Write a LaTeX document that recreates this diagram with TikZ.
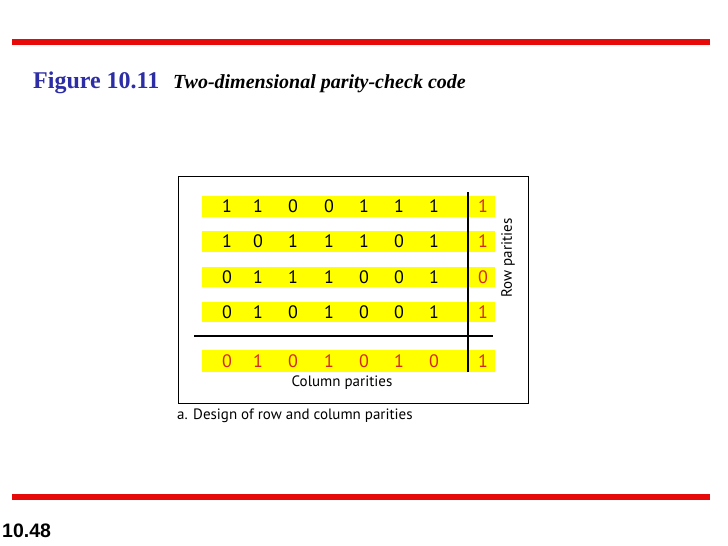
\documentclass[tikz,border=0pt]{standalone}
\usepackage{fontspec}
\setmainfont{Liberation Serif}
\newfontfamily\figsans{PT Sans}
\newfontfamily\arialf{Liberation Sans}
\definecolor{rulered}{RGB}{230,10,10}
\definecolor{titleblue}{RGB}{45,45,165}
\definecolor{digred}{RGB}{215,40,30}
\definecolor{rowyellow}{RGB}{255,255,0}
\begin{document}
\begin{tikzpicture}[x=1pt,y=-1pt,
  dig/.style={font=\figsans\fontsize{18}{18}\selectfont,inner sep=0pt,anchor=center},
  pdig/.style={dig,text=digred},
  lbl/.style={inner sep=0pt,font=\figsans\fontsize{15}{15}\selectfont},
  redrule/.style={draw=rulered,line width=6pt},
  blackrule/.style={draw=black,line width=2.2pt}]
\useasboundingbox (0,0) rectangle (728,546);
\fill[white] (0,0) rectangle (728,546);
% red rules
\coordinate (t1) at (12,42); \coordinate (t2) at (710,42);
\coordinate (b1) at (12,497); \coordinate (b2) at (710,497);
\draw[redrule] (t1) -- (t2);
\draw[redrule] (b1) -- (b2);
% title
\node[anchor=base west,inner sep=0pt,text=titleblue,font=\fontsize{24}{24}\selectfont\bfseries] (fig) at (33,88) {Figure 10.11};
\node[anchor=base west,inner sep=0pt,font=\fontsize{20}{20}\selectfont\bfseries\itshape] (ttl) at (173,88) {Two-dimensional parity-check code};
% page number
\node[anchor=base west,inner sep=0pt,font=\arialf\bfseries\fontsize{19.5}{19.5}\selectfont] (pg) at (2,537) {10.48};
% frame
\draw[black,line width=1pt] (178,176) rectangle (528,403);
% yellow bars
\foreach \ya/\yb in {196/217,231/252,267/287,302/322,350/372}{
  \fill[rowyellow] (202,\ya) rectangle (495,\yb);
}
% digits
\def\xs{{227,258,293,329,364,399,434,483}}
\foreach \row/\y in {{1,1,0,0,1,1,1,1}/206.5,{1,0,1,1,1,0,1,1}/241.5,{0,1,1,1,0,0,1,0}/277,{0,1,0,1,0,0,1,1}/312}{
  \foreach \d [count=\i] in \row {
    \pgfmathsetmacro{\xx}{\xs[\i-1]}
    \ifnum\i=8
      \node[pdig] at (\xx,\y) {\d};
    \else
      \node[dig] at (\xx,\y) {\d};
    \fi
  }
}
\foreach \d [count=\i] in {0,1,0,1,0,1,0,1}{
  \pgfmathsetmacro{\xx}{\xs[\i-1]}
  \node[pdig] at (\xx,361) {\d};
}
% lines
\coordinate (v1) at (468,192); \coordinate (v2) at (468,372);
\coordinate (h1) at (194,336); \coordinate (h2) at (493,336);
\draw[blackrule] (v1) -- (v2);
\draw[blackrule] (h1) -- (h2);
% labels
\node[lbl,rotate=90] (rp) at (508,258) {Row parities};
\node[lbl] (cp) at (342,383) {Column parities};
\node[lbl,anchor=west] (cap) at (177,416) {a. Design of row and column parities};
\end{tikzpicture}
\end{document}
